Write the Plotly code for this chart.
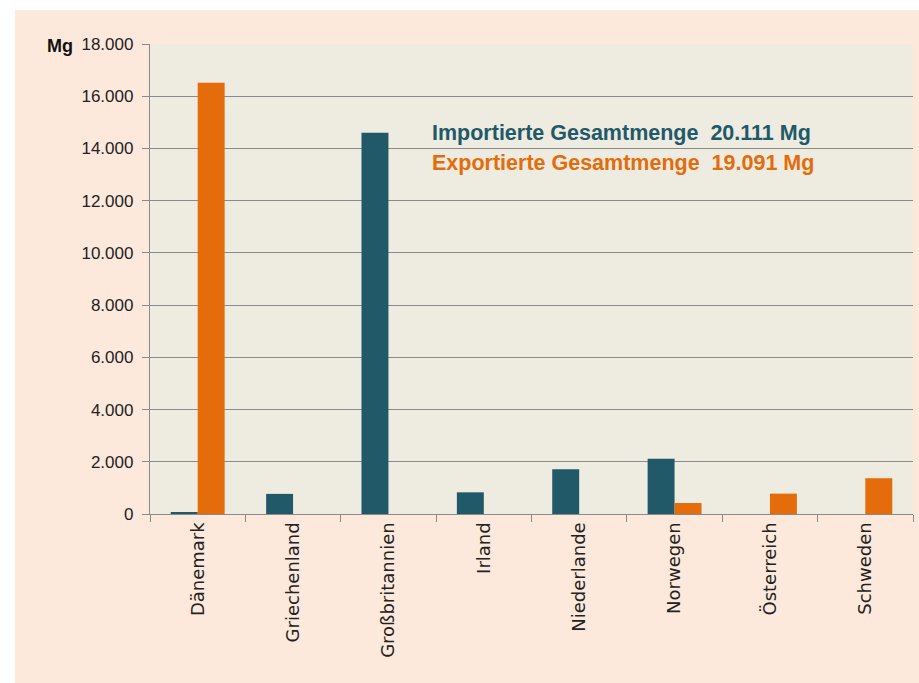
import plotly.graph_objects as go

countries = ["Dänemark", "Griechenland", "Großbritannien", "Irland",
             "Niederlande", "Norwegen", "Österreich", "Schweden"]
imports = [75, 770, 14600, 830, 1715, 2120, 0, 0]
exports = [16520, 0, 0, 0, 0, 420, 780, 1370]
y_ticks = [0, 2000, 4000, 6000, 8000, 10000, 12000, 14000, 16000, 18000]
y_tick_text = ["0", "2.000", "4.000", "6.000", "8.000", "10.000",
               "12.000", "14.000", "16.000", "18.000"]

TEAL = "#215968"
ORANGE = "#E46C0A"
PEACH = "#FDE9DC"
PLOTBG = "#EEEBE1"
GRID = "#8A8A8A"

W, H = 919, 683
L, R, T, B = 150, 6, 44, 169
pw, ph = W - L - R, H - T - B


def px(x):
    return (x - L) / pw


def py(y):
    return (H - B - y) / ph


fig = go.Figure()
fig.add_trace(go.Bar(x=countries, y=imports, marker=dict(color=TEAL, line=dict(width=0)),
                     name="Import"))
fig.add_trace(go.Bar(x=countries, y=exports, marker=dict(color=ORANGE, line=dict(width=0)),
                     name="Export"))

fig.update_layout(
    width=W, height=H,
    margin=dict(l=L, r=R, t=T, b=B, pad=0),
    paper_bgcolor=PEACH,
    plot_bgcolor=PLOTBG,
    barmode="group",
    bargap=0.435,
    bargroupgap=0,
    showlegend=False,
    font=dict(family="Liberation Sans", color="#222222"),
    xaxis=dict(
        tickangle=-90,
        ticks="outside", ticklen=7, tickcolor=GRID, tickwidth=1.3,
        tickson="boundaries",
        showline=True, linecolor=GRID, linewidth=1.3,
        showgrid=False,
        tickfont=dict(family="DejaVu Sans", size=18, color="#222222"),
    ),
    yaxis=dict(
        range=[0, 18000],
        tickvals=y_ticks, ticktext=y_tick_text,
        ticks="outside", ticklen=7, tickcolor=GRID, tickwidth=1.3,
        ticklabelstandoff=5,
        showline=True, linecolor=GRID, linewidth=1.3,
        showgrid=True, gridcolor=GRID, gridwidth=1.3,
        zeroline=False,
        tickfont=dict(family="Liberation Sans", size=17, color="#222222"),
    ),
    shapes=[
        dict(type="rect", xref="paper", yref="paper", layer="above",
             x0=px(0), x1=px(W), y0=py(10), y1=py(0),
             fillcolor="white", line=dict(width=0)),
        dict(type="rect", xref="paper", yref="paper", layer="above",
             x0=px(0), x1=px(15), y0=py(H), y1=py(0),
             fillcolor="white", line=dict(width=0)),
    ],
    annotations=[
        dict(text="<b>Mg</b>", xref="paper", yref="paper", x=px(60), y=py(46),
             xanchor="center", yanchor="middle", showarrow=False,
             font=dict(family="Liberation Sans", size=18, color="#111111")),
        dict(text="<b>Importierte Gesamtmenge  20.111 Mg</b>", xref="paper", yref="paper",
             x=px(430), y=py(133), xanchor="left", yanchor="middle", showarrow=False,
             font=dict(family="Liberation Sans", size=21.5, color=TEAL)),
        dict(text="<b>Exportierte Gesamtmenge  19.091 Mg</b>", xref="paper", yref="paper",
             x=px(430), y=py(163), xanchor="left", yanchor="middle", showarrow=False,
             font=dict(family="Liberation Sans", size=21.5, color=ORANGE)),
    ],
)

fig.write_html("out.html", config={"displayModeBar": False},
               post_script="document.body.style.margin='0';document.body.style.padding='0';")
